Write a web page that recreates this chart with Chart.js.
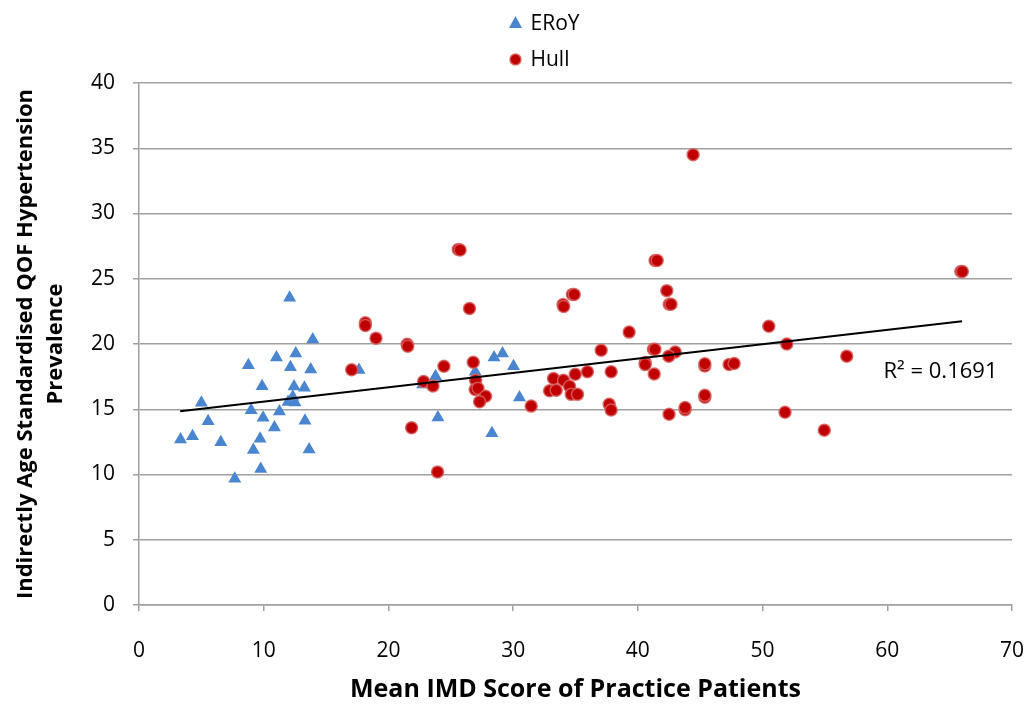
<!DOCTYPE html>
<html>
  <head>
    <meta charset="UTF-8" />
    <title>QOF Hypertension vs IMD</title>
    <script src="https://cdn.jsdelivr.net/npm/chart.js"></script>
    <style type="text/css">
      html, body{ margin:0; padding:0; background:#fff; overflow:hidden; }
      #box{ width:1029px; height:711px; position:relative; }
      #box canvas{ display:block; }
    </style>
  </head>
  <body>
    <div id="box"><canvas id="scatter"></canvas></div>

    <script>
      // ERoY practices (triangles)
      var eroyX = [12.08, 13.93, 11.02, 12.57, 8.77, 12.14, 13.77, 9.87, 12.43, 13.26,
                   12.33, 11.95, 12.51, 5.0, 8.99, 11.26, 9.95, 5.54, 13.31, 10.86,
                   3.33, 4.29, 6.56, 9.71, 9.17, 13.64, 9.76, 7.68, 17.64, 28.47,
                   29.15, 30.03, 26.96, 23.78, 22.74, 30.51, 23.97, 28.3];
      var eroyY = [23.54, 20.34, 18.97, 19.27, 18.38, 18.22, 18.05, 16.76, 16.74, 16.64,
                   15.96, 15.56, 15.52, 15.49, 14.93, 14.83, 14.34, 14.08, 14.11, 13.6,
                   12.69, 12.94, 12.48, 12.73, 11.87, 11.91, 10.42, 9.67, 18.0, 18.97,
                   19.27, 18.3, 17.87, 17.53, 16.9, 15.9, 14.37, 13.17];

      // Hull practices (circles)
      var hullX = [25.6, 25.75, 26.5, 18.15, 18.15, 19.0, 21.5, 21.55, 17.05, 24.45,
                   26.8, 22.82, 23.57, 26.99, 26.96, 27.18, 27.79, 27.31, 31.45, 21.86,
                   23.94, 34.75, 34.9, 34.0, 34.05, 33.24, 34.04, 34.52, 34.98, 32.92,
                   33.45, 34.66, 35.16, 44.43, 41.38, 41.55, 42.32, 42.52, 42.66, 39.3,
                   50.5, 37.06, 41.25, 41.37, 43.0, 42.48, 51.94, 40.59, 40.59, 41.31,
                   45.37, 45.37, 47.32, 47.72, 37.86, 35.96, 45.37, 45.37, 37.7, 37.86,
                   43.79, 43.79, 42.5, 51.8, 65.9, 66.02, 56.75, 54.95];
      var hullY = [27.25, 27.2, 22.72, 21.62, 21.42, 20.45, 19.98, 19.82, 18.02, 18.3,
                   18.6, 17.13, 16.79, 17.23, 16.51, 16.61, 16.0, 15.57, 15.24, 13.58,
                   10.2, 23.8, 23.8, 23.03, 22.87, 17.36, 17.23, 16.76, 17.68, 16.41,
                   16.46, 16.14, 16.14, 34.51, 26.4, 26.4, 24.09, 23.05, 23.05, 20.91,
                   21.36, 19.52, 19.6, 19.6, 19.39, 19.07, 20.0, 18.58, 18.42, 17.71,
                   18.32, 18.48, 18.43, 18.5, 17.87, 17.87, 15.92, 16.08, 15.39, 14.94,
                   14.97, 15.13, 14.62, 14.77, 25.55, 25.55, 19.07, 13.4];

      // linear trendline as drawn (end points)
      var trendX = [3.3, 66.0];
      var trendY = [14.85, 21.75];
      var r2Label = "R\u00B2 = 0.1691";

      var seriesNames = ["ERoY", "Hull"];
      var xTitle = "Mean IMD Score of Practice Patients";
      var yTitle = ["Indirectly Age Standardised QOF Hypertension", "Prevalence"];

      var FONT = "'Open Sans', sans-serif";
      var BLUE = "#4a86d0";
      var RED = "#c00000";
      var HALO = "rgba(215,95,95,0.85)";
      var GRID = "#a0a0a0";

      function pts(xs, ys){
        var out = [];
        for (var i = 0; i < xs.length; i++) out.push({x: xs[i], y: ys[i]});
        return out;
      }

      // legend + R² text drawn on the canvas
      var overlay = {
        id: 'overlay',
        afterDraw: function(chart){
          var ctx = chart.ctx;
          var cx = chart.width / 2 + 1;
          ctx.save();
          ctx.font = "21px " + FONT;
          ctx.textBaseline = "alphabetic";
          ctx.textAlign = "left";

          // triangle marker
          ctx.fillStyle = BLUE;
          ctx.beginPath();
          ctx.moveTo(cx, 16);
          ctx.lineTo(cx + 6.5, 28);
          ctx.lineTo(cx - 6.5, 28);
          ctx.closePath();
          ctx.fill();
          ctx.fillStyle = "#000";
          ctx.fillText(seriesNames[0], cx + 15, 30);

          // circle marker
          ctx.beginPath();
          ctx.arc(cx, 59.5, 5.5, 0, Math.PI * 2);
          ctx.fillStyle = RED;
          ctx.fill();
          ctx.lineWidth = 1.5;
          ctx.strokeStyle = HALO;
          ctx.stroke();
          ctx.fillStyle = "#000";
          ctx.fillText(seriesNames[1], cx + 15, 66);

          // R squared label
          var xs = chart.scales.x, ys = chart.scales.y;
          ctx.font = "22px " + FONT;
          ctx.fillText(r2Label, xs.getPixelForValue(59.7), ys.getPixelForValue(17.4));
          ctx.restore();
        }
      };

      new Chart(document.getElementById('scatter'), {
        type: 'scatter',
        data: {
          datasets: [
            {
              type: 'line',
              label: 'Trend',
              data: pts(trendX, trendY),
              borderColor: '#000',
              borderWidth: 2,
              pointRadius: 0,
              fill: false,
              order: 0
            },
            {
              label: seriesNames[1],
              data: pts(hullX, hullY),
              pointStyle: 'circle',
              pointRadius: 6,
              backgroundColor: RED,
              borderColor: HALO,
              borderWidth: 1.5,
              order: 1
            },
            {
              label: seriesNames[0],
              data: pts(eroyX, eroyY),
              pointStyle: 'triangle',
              pointRadius: 7.5,
              backgroundColor: BLUE,
              borderColor: BLUE,
              borderWidth: 0,
              order: 2
            }
          ]
        },
        options: {
          responsive: true,
          maintainAspectRatio: false,
          animation: false,
          layout: { padding: { top: 83, right: 17, bottom: 4, left: 8 } },
          plugins: {
            legend: { display: false },
            tooltip: { enabled: false }
          },
          scales: {
            x: {
              type: 'linear',
              min: 0,
              max: 70,
              ticks: { stepSize: 10, padding: 27, color: '#000', font: { family: FONT, size: 21 } },
              grid: { drawOnChartArea: false, drawTicks: true, tickLength: 6, color: GRID, lineWidth: 1.5 },
              border: { color: GRID, width: 1.5 },
              title: {
                display: true,
                text: xTitle,
                color: '#000',
                padding: { top: 0, bottom: 2 },
                font: { family: FONT, size: 25, weight: 'bold' }
              },
              afterFit: function(scale){
                scale.height = 102;
                scale.paddingLeft = 0;
                scale.paddingRight = 0;
              }
            },
            y: {
              min: 0,
              max: 40,
              ticks: { stepSize: 5, padding: 18, color: '#000', font: { family: FONT, size: 21 } },
              grid: { drawTicks: true, tickLength: 6, color: GRID, lineWidth: 1.5 },
              border: { color: GRID, width: 1.5 },
              title: {
                display: true,
                text: yTitle,
                color: '#000',
                padding: { top: 2, bottom: 0 },
                font: { family: FONT, size: 22, weight: 'bold', lineHeight: 1.4 }
              },
              afterFit: function(scale){ scale.width = 131; }
            }
          }
        },
        plugins: [overlay]
      });
    </script>
  </body>
</html>
